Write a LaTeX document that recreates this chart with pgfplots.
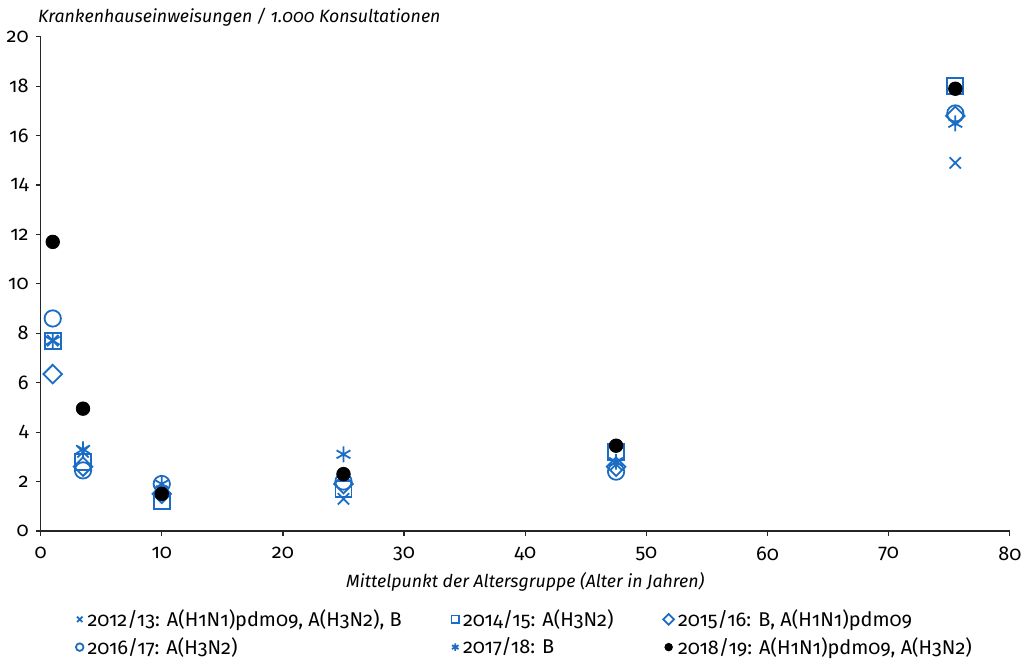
\documentclass[border=0pt]{standalone}
\usepackage{pgfplots}
\pgfplotsset{compat=1.18}
\usepackage{fontspec}
\setmainfont{Fira Sans}[Numbers=OldStyle]
\definecolor{mblue}{HTML}{1A6CC4}
\begin{document}
\fontsize{10pt}{12pt}\selectfont
\begin{tikzpicture}
\begin{axis}[
  scale only axis,
  width=486.5pt, height=248pt,
  xmin=0, xmax=80, ymin=0, ymax=20,
  xtick={0,10,...,80}, ytick={0,2,...,20},
  axis lines=left,
  axis line style={-, line width=0.7pt, black!85},
  tick style={black!85, line width=0.6pt},
  tick align=outside,
  major tick length=2.5pt,
  /pgf/number format/assume math mode=true,
  /pgf/number format/1000 sep={},
  tick label style={font=\fontsize{10pt}{12pt}\selectfont},
  xticklabel style={yshift=-2pt},
  yticklabel style={xshift=0pt},
  xlabel={\itshape Mittelpunkt der Altersgruppe (Alter in Jahren)},
  xlabel style={yshift=1pt, font=\fontsize{8.9pt}{11pt}\selectfont},
  ylabel={\rule{0pt}{11.5pt}\itshape Krankenhauseinweisungen / 1.000 Konsultationen},
  ylabel style={rotate=-90, at={(axis description cs:0,1)}, anchor=base west, yshift=7pt, xshift=-1.5pt, inner sep=0pt, font=\fontsize{8.9pt}{11pt}\selectfont},
  legend columns=3,
  legend style={draw=none, fill=none, at={(axis description cs:0.034,-0.146)}, anchor=north west,
    font=\fontsize{10pt}{12pt}\selectfont,
    /tikz/every even column/.append style={column sep=23pt},
    row sep=0pt, inner sep=1pt},
  legend cell align=left,
  legend image code/.code={\draw[#1, mark size=1.9pt] plot coordinates {(0.1cm,0cm)};},
  every axis plot/.append style={line width=0.9pt},
]
\addplot[only marks, mark=x, mblue, mark size=4pt] coordinates {
(1,7.7) (3.5,3.2) (10,1.6) (25,1.3) (47.5,2.7) (75.5,14.9)};
\addlegendentry{2012/13: A(H1N1)pdm09, A(H3N2), B}
\addplot[only marks, mark=square, mblue, mark size=4pt] coordinates {
(1,7.7) (3.5,2.8) (10,1.2) (25,1.7) (47.5,3.2) (75.5,18.0)};
\addlegendentry{2014/15: A(H3N2)}
\addplot[only marks, mark=square, mark options={rotate=45}, mblue, mark size=3.3pt] coordinates {
(1,6.35) (3.5,2.6) (10,1.5) (25,1.9) (47.5,2.6) (75.5,16.8)};
\addlegendentry{2015/16: B, A(H1N1)pdm09}
\addplot[only marks, mark=o, mblue, mark size=4.1pt] coordinates {
(1,8.6) (3.5,2.45) (10,1.9) (25,2.0) (47.5,2.4) (75.5,16.9)};
\addlegendentry{2016/17: A(H3N2)}
\addplot[only marks, mark=asterisk, mblue, mark size=4pt] coordinates {
(1,7.7) (3.5,3.3) (10,1.9) (25,3.1) (47.5,2.8) (75.5,16.5)};
\addlegendentry{2017/18: B}
\addplot[only marks, mark=*, black, fill=black, mark size=3.4pt, line width=0.4pt] coordinates {
(1,11.7) (3.5,4.95) (10,1.5) (25,2.3) (47.5,3.45) (75.5,17.9)};
\addlegendentry{2018/19: A(H1N1)pdm09, A(H3N2)}
\end{axis}
\end{tikzpicture}
\end{document}
